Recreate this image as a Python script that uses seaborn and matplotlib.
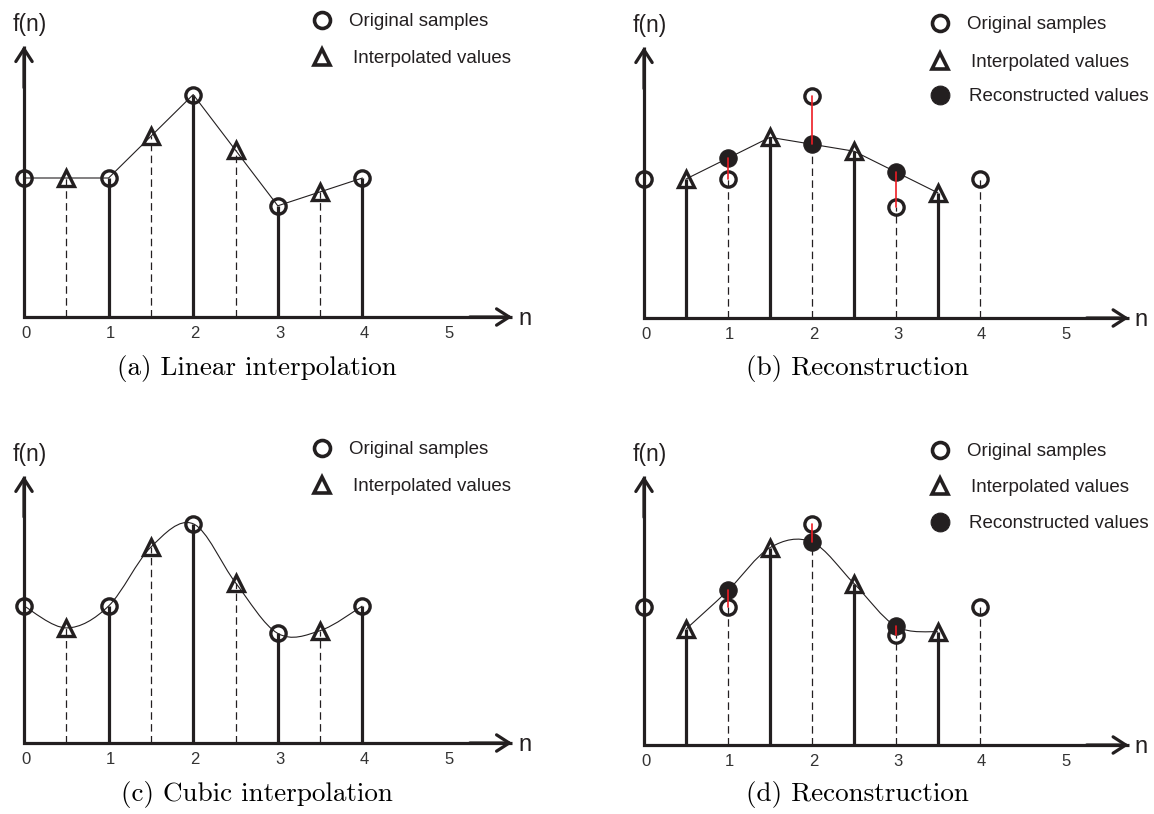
import numpy as np
import pandas as pd
import matplotlib
matplotlib.use("Agg")
import matplotlib.pyplot as plt
from matplotlib.path import Path
from matplotlib.patches import PathPatch
import seaborn as sns

sns.set_theme(style="white")
plt.rcParams["font.family"] = ["Liberation Sans", "DejaVu Sans"]
plt.rcParams["axes.formatter.use_mathtext"] = True

# ---- data -------------------------------------------------------------
n_orig = [0, 1, 2, 3, 4]
f_orig = [1.0, 1.0, 1.6, 0.8, 1.0]
n_half = [0.5, 1.5, 2.5, 3.5]
n_recon = [1, 2, 3]
f_linear_half = [1.0, 1.3, 1.2, 0.9]
f_linear_recon = [1.15, 1.25, 1.05]
f_cubic_half = [0.84, 1.43, 1.17, 0.82]
f_cubic_recon = [1.12, 1.47, 0.86]
tick_values = [0, 1, 2, 3, 4, 5]
tick_labels = ["0", "1", "2", "3", "4", "5"]
captions = ["(a) Linear interpolation", "(b) Reconstruction",
            "(c) Cubic interpolation", "(d) Reconstruction"]
legend_labels = ["Original samples", "Interpolated values", "Reconstructed values"]

INK = "#231f20"
RED = "#ed1c24"
W, H = 1154, 814

fig = plt.figure(figsize=(W / 100, H / 100), dpi=100)
fig.patch.set_facecolor("white")

# overlay in pixel units for legends and captions
over = fig.add_axes([0, 0, 1, 1])
over.set_xlim(0, W)
over.set_ylim(H, 0)
over.set_axis_off()


def make_panel(qx, qy, ox, oy, sx, sy, qw=577, qh=407):
    ax = fig.add_axes([qx / W, 1 - (qy + qh) / H, qw / W, qh / H])
    ax.set_xlim((qx - ox) / sx, (qx + qw - ox) / sx)
    ax.set_ylim((oy - (qy + qh)) / sy, (oy - qy) / sy)
    ax.set_axis_off()
    ax.patch.set_alpha(0)
    return ax


def draw_axes(ax, sy):
    xtip, ytip = 5.77, 1.95
    ax.plot([0, 0, xtip], [ytip, 0, 0], color=INK, lw=2.3,
            solid_joinstyle="miter", solid_capstyle="butt", zorder=2)
    style = "->,head_length=0.65,head_width=0.42"
    ax.annotate("", xy=(xtip, 0), xytext=(xtip - 0.5, 0),
                arrowprops=dict(arrowstyle=style, lw=2.3, color=INK,
                                shrinkA=0, shrinkB=0, mutation_scale=14))
    ax.annotate("", xy=(0, ytip), xytext=(0, ytip - 0.3),
                arrowprops=dict(arrowstyle=style, lw=2.3, color=INK,
                                shrinkA=0, shrinkB=0, mutation_scale=14))
    for v, lab in zip(tick_values, tick_labels):
        ax.text(v + 0.02, -0.152, lab, ha="center", va="baseline",
                fontsize=12, color="#333333")
    ax.text(xtip + 0.15, -0.058, "n", ha="center", va="baseline",
            fontsize=17, color=INK)
    ax.text(0.07, 2.06, "f(n)", ha="center", va="baseline",
            fontsize=16.5, color=INK)


def stems(ax, xs, ys, solid):
    for x, y in zip(xs, ys):
        if solid:
            ax.plot([x, x], [0, y], color=INK, lw=2.3, zorder=2,
                    solid_capstyle="butt")
        else:
            ax.plot([x, x], [0, y], color=INK, lw=0.9, zorder=2,
                    linestyle=(0, (6, 3.5)))


def markers(ax, xs, ys, kind):
    df = pd.DataFrame({"n": xs, "f": ys})
    if kind == "circle":
        kw = dict(marker="o", ms=11, mfc="none", mec=INK, mew=2.4)
    elif kind == "tri":
        kw = dict(marker="^", ms=11.5, mfc="none", mec=INK, mew=2.4)
    else:
        kw = dict(marker="o", ms=12.5, mfc=INK, mec=INK, mew=0.8)
    sns.lineplot(data=df, x="n", y="f", ax=ax, estimator=None,
                 linestyle="none", color=INK, zorder=5, **kw)
    ax.set_xlabel("")
    ax.set_ylabel("")


def smooth_path(xs, ys):
    pts = np.column_stack([xs, ys]).astype(float)
    P = np.vstack([pts[0], pts, pts[-1]])
    verts = [pts[0]]
    codes = [Path.MOVETO]
    for i in range(1, len(P) - 2):
        p0, p1, p2, p3 = P[i - 1], P[i], P[i + 1], P[i + 2]
        verts += [p1 + (p2 - p0) / 6, p2 - (p3 - p1) / 6, p2]
        codes += [Path.CURVE4] * 3
    return Path(verts, codes)


def merged(xa, ya, xb, yb):
    df = pd.DataFrame({"n": list(xa) + list(xb), "f": list(ya) + list(yb)})
    return df.sort_values("n")


def legend(x, ys, kinds, text_dx):
    for y, kind, lab, dx in zip(ys, kinds, legend_labels, text_dx):
        if kind == "circle":
            over.plot([x], [y], marker="o", ms=11.5, mfc="none", mec=INK, mew=2.6)
        elif kind == "tri":
            over.plot([x], [y], marker="^", ms=12, mfc="none", mec=INK, mew=2.6)
        else:
            over.plot([x], [y], marker="o", ms=13.5, mfc=INK, mec=INK, mew=0.8)
        over.text(x + dx, y + 6, lab, ha="left", va="baseline",
                  fontsize=13.5, color=INK)


def caption(cx, y, text):
    over.text(cx, y, text, ha="center", va="baseline", fontsize=19.5,
              family="cmr10", color="black")


# ---- (a) linear interpolation ----------------------------------------
ax = make_panel(0, 0, 24, 317, 84.6, 139)
draw_axes(ax, 139)
stems(ax, n_orig[1:], f_orig[1:], solid=True)
stems(ax, n_half, f_linear_half, solid=False)
d = merged(n_orig, f_orig, n_half, f_linear_half)
sns.lineplot(data=d, x="n", y="f", ax=ax, estimator=None, sort=True,
             color=INK, lw=0.8, zorder=3)
markers(ax, n_orig, f_orig, "circle")
markers(ax, n_half, f_linear_half, "tri")
legend(322, [20, 57], ["circle", "tri"], [27, 31])
caption(257, 375, captions[0])

# ---- (b) reconstruction from linear ----------------------------------
ax = make_panel(577, 0, 644, 318, 84.0, 139)
draw_axes(ax, 139)
stems(ax, n_half, f_linear_half, solid=True)
low = [min(a, b) for a, b in zip(f_orig[1:4], f_linear_recon)] + [f_orig[4]]
stems(ax, n_orig[1:], low, solid=False)
d = merged(n_half, f_linear_half, n_recon, f_linear_recon)
sns.lineplot(data=d, x="n", y="f", ax=ax, estimator=None, sort=True,
             color=INK, lw=0.8, zorder=3)
markers(ax, n_orig, f_orig, "circle")
markers(ax, n_half, f_linear_half, "tri")
markers(ax, n_recon, f_linear_recon, "filled")
for x, a, b in zip(n_recon, f_orig[1:4], f_linear_recon):
    ax.plot([x, x], [a, b], color=RED, lw=1.2, zorder=6)
legend(940, [23, 61, 95], ["circle", "tri", "filled"], [27, 31, 29])
caption(857, 375, captions[1])

# ---- (c) cubic interpolation -----------------------------------------
ax = make_panel(0, 407, 24, 743, 84.6, 137)
draw_axes(ax, 137)
stems(ax, n_orig[1:], f_orig[1:], solid=True)
stems(ax, n_half, f_cubic_half, solid=False)
d = merged(n_orig, f_orig, n_half, f_cubic_half)
ax.add_patch(PathPatch(smooth_path(d["n"], d["f"]), fc="none", ec=INK,
                       lw=0.8, zorder=3))
markers(ax, n_orig, f_orig, "circle")
markers(ax, n_half, f_cubic_half, "tri")
legend(322, [448, 485], ["circle", "tri"], [27, 31])
caption(257, 801, captions[2])

# ---- (d) reconstruction from cubic -----------------------------------
ax = make_panel(577, 407, 644, 745, 84.0, 138)
draw_axes(ax, 138)
stems(ax, n_half, f_cubic_half, solid=True)
low = [min(a, b) for a, b in zip(f_orig[1:4], f_cubic_recon)] + [f_orig[4]]
stems(ax, n_orig[1:], low, solid=False)
d = merged(n_half, f_cubic_half, n_recon, f_cubic_recon)
ax.add_patch(PathPatch(smooth_path(d["n"], d["f"]), fc="none", ec=INK,
                       lw=0.8, zorder=3))
markers(ax, n_orig, f_orig, "circle")
markers(ax, n_half, f_cubic_half, "tri")
markers(ax, n_recon, f_cubic_recon, "filled")
for x, a, b in zip(n_recon, f_orig[1:4], f_cubic_recon):
    ax.plot([x, x], [a, b], color=RED, lw=1.2, zorder=6)
legend(940, [450, 486, 522], ["circle", "tri", "filled"], [27, 31, 29])
caption(857, 801, captions[3])

fig.savefig("out.png", dpi=100, facecolor="white")
